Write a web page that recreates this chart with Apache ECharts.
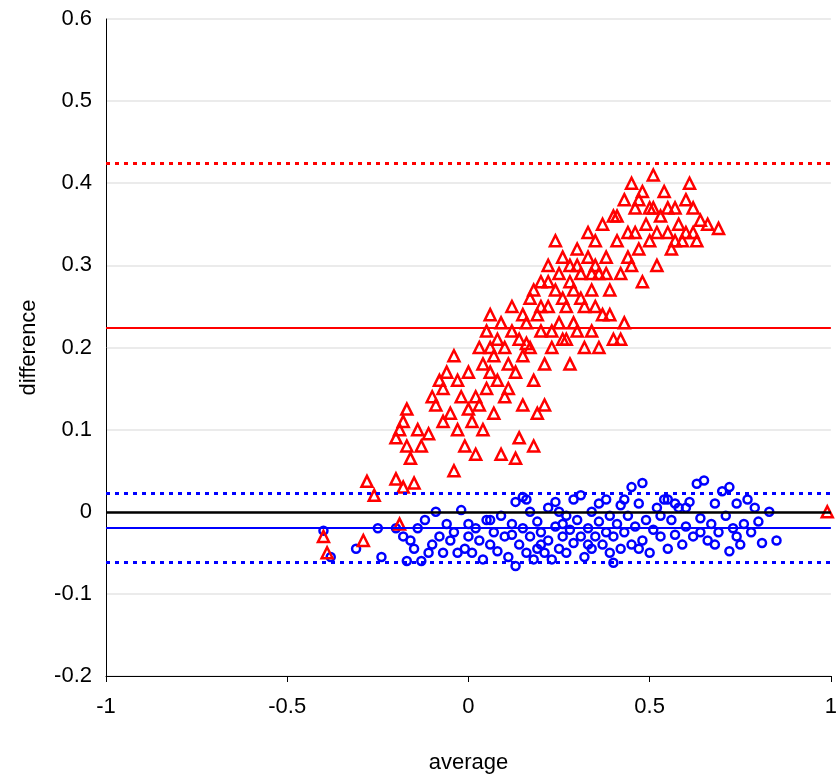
<!DOCTYPE html>
<html lang="en">
<head>
    <meta charset="UTF-8">
    <title>Difference vs average</title>
    <style>
        html, body { margin: 0; padding: 0; background: #fff; }
        .chart { width: 840px; height: 779px; }
    </style>
</head>
<body>
    <div id="chart" class="chart"></div>
    <script src="https://cdn.jsdelivr.net/npm/echarts@6/dist/echarts.min.js"></script>
    <script>
        // red triangles
        var redPoints = [
            [-0.40,-0.03],[-0.39,-0.05],[-0.29,-0.035],[-0.28,0.037],[-0.26,0.02],[-0.2,0.09],[-0.19,0.1],[-0.18,0.11],
            [-0.17,0.125],[-0.17,0.08],[-0.16,0.065],[-0.15,0.035],[-0.2,0.04],[-0.18,0.03],[-0.19,-0.015],[-0.14,0.1],
            [-0.13,0.08],[-0.1,0.14],[-0.09,0.13],[-0.08,0.16],[-0.07,0.15],[-0.07,0.11],[-0.06,0.17],[-0.05,0.12],
            [-0.04,0.19],[-0.04,0.05],[-0.03,0.16],[-0.03,0.1],[-0.02,0.14],[-0.01,0.08],[0,0.17],[0.01,0.11],
            [0.02,0.14],[0.02,0.07],[0.03,0.2],[0.03,0.13],[0.04,0.18],[0.04,0.1],[0.05,0.22],[0.05,0.15],
            [0.06,0.24],[0.06,0.17],[0.07,0.19],[0.07,0.12],[0.08,0.21],[0.08,0.16],[0.09,0.23],[0.09,0.07],
            [0.1,0.2],[0.1,0.14],[0.11,0.18],[0.12,0.22],[0.12,0.25],[0.13,0.17],[0.13,0.065],[0.14,0.21],
            [0.15,0.19],[0.15,0.13],[0.16,0.23],[0.17,0.26],[0.17,0.2],[0.18,0.16],[0.18,0.08],[0.19,0.24],
            [0.19,0.12],[0.2,0.28],[0.2,0.22],[0.21,0.18],[0.21,0.13],[0.22,0.3],[0.22,0.25],[0.23,0.2],
            [0.24,0.33],[0.24,0.27],[0.25,0.23],[0.25,0.29],[0.26,0.31],[0.26,0.21],[0.27,0.25],[0.28,0.3],
            [0.28,0.18],[0.29,0.27],[0.3,0.32],[0.3,0.22],[0.31,0.29],[0.32,0.25],[0.32,0.2],[0.33,0.31],
            [0.34,0.27],[0.34,0.22],[0.35,0.33],[0.36,0.29],[0.36,0.2],[0.37,0.35],[0.37,0.24],[0.38,0.31],
            [0.39,0.27],[0.4,0.36],[0.4,0.21],[0.41,0.33],[0.42,0.29],[0.43,0.38],[0.43,0.23],[0.44,0.34],
            [0.45,0.4],[0.45,0.3],[0.46,0.37],[0.47,0.32],[0.48,0.39],[0.48,0.28],[0.49,0.35],[0.5,0.33],
            [0.51,0.41],[0.51,0.37],[0.52,0.3],[0.53,0.36],[0.54,0.39],[0.55,0.34],[0.56,0.32],[0.57,0.37],
            [0.58,0.35],[0.59,0.33],[0.6,0.38],[0.61,0.4],[0.62,0.34],[0.64,0.355],[0.66,0.35],[0.69,0.345],
            [0.23,0.22],[0.27,0.21],[0.31,0.26],[0.35,0.25],[0.39,0.24],[0.42,0.21],[0.16,0.205],[0.11,0.15],
            [0.14,0.09],[0.2,0.25],[0.28,0.28],[0.33,0.34],[0.38,0.29],[0.46,0.34],[0.5,0.37],[0.55,0.37],
            [0.6,0.34],[0.63,0.33],[0.99,0],[0.35,0.3],[0.29,0.23],[-0.11,0.095],[0.0,0.125],[0.06,0.2],
            [0.15,0.24],[0.18,0.27],[0.22,0.28],[0.26,0.26],[0.3,0.3],[0.34,0.29],[0.41,0.36],[0.44,0.31],
            [0.47,0.38],[0.52,0.34],[0.57,0.33],[0.62,0.37]
        ];
        // blue circles
        var bluePoints = [
            [-0.4,-0.023],[-0.38,-0.055],[-0.31,-0.045],[-0.25,-0.02],[-0.24,-0.055],[-0.2,-0.02],[-0.18,-0.03],
            [-0.17,-0.06],[-0.16,-0.035],[-0.15,-0.045],[-0.14,-0.02],[-0.13,-0.06],[-0.12,-0.01],[-0.11,-0.05],
            [-0.1,-0.04],[-0.09,0.0],[-0.08,-0.03],[-0.07,-0.05],[-0.06,-0.015],[-0.05,-0.035],[-0.04,-0.025],
            [-0.02,0.002],[-0.01,-0.045],[0,-0.03],[0.01,-0.05],[0.02,-0.02],[0.03,-0.035],[0.04,-0.058],
            [0.05,-0.01],[0.06,-0.04],[0.07,-0.025],[0.08,-0.048],[0.09,-0.005],[0.1,-0.03],[0.11,-0.055],
            [0.12,-0.015],[0.13,-0.066],[0.13,0.012],[0.14,-0.04],[0.15,-0.02],[0.15,0.018],[0.16,-0.05],
            [0.17,-0.03],[0.17,0.0],[0.18,-0.058],[0.19,-0.012],[0.2,-0.04],[0.2,-0.025],[0.21,-0.05],
            [0.22,0.005],[0.22,-0.035],[0.23,-0.058],[0.24,-0.018],[0.24,0.012],[0.25,-0.045],[0.26,-0.03],
            [0.27,-0.005],[0.27,-0.05],[0.28,-0.022],[0.29,0.015],[0.29,-0.038],[0.3,-0.01],[0.31,-0.03],
            [0.31,0.02],[0.32,-0.055],[0.33,-0.02],[0.34,0.0],[0.34,-0.045],[0.35,-0.03],[0.36,-0.012],
            [0.36,0.01],[0.37,-0.04],[0.38,-0.025],[0.38,0.015],[0.39,-0.005],[0.4,-0.062],[0.4,-0.03],
            [0.41,-0.015],[0.42,0.008],[0.42,-0.045],[0.43,-0.025],[0.44,-0.005],[0.45,-0.04],[0.45,0.03],
            [0.46,-0.018],[0.47,0.01],[0.48,-0.035],[0.48,0.035],[0.49,-0.01],[0.5,-0.05],[0.51,-0.022],
            [0.52,0.005],[0.53,-0.03],[0.54,0.015],[0.55,-0.045],[0.56,-0.01],[0.57,-0.028],[0.58,0.005],
            [0.59,-0.04],[0.6,-0.018],[0.61,0.012],[0.62,-0.03],[0.63,0.034],[0.64,-0.008],[0.65,0.038],
            [0.66,-0.035],[0.67,-0.015],[0.68,0.01],[0.69,-0.025],[0.7,0.025],[0.71,-0.005],[0.72,0.03],
            [0.72,-0.048],[0.73,-0.02],[0.74,0.01],[0.75,-0.04],[0.76,-0.015],[0.77,0.015],[0.78,-0.025],
            [0.79,0.005],[0.8,-0.012],[0.81,-0.038],[0.83,0.0],[0.85,-0.035],[0.55,0.015],[0.43,0.015],
            [0.33,-0.04],[0.26,-0.015],[0.19,-0.045],[0.12,-0.028],[0.06,-0.01],[0.0,-0.015],[-0.03,-0.05],
            [0.47,-0.045],[0.53,-0.005],[0.6,0.005],[0.68,-0.04],[0.74,-0.03],[0.39,-0.05],[0.25,0.0],
            [0.16,0.015],[0.57,0.01],[0.64,-0.025]
        ];
        // reference lines
        var redLines = [0.424, 0.224];
        var blueLines = [0.023, -0.019, -0.061];

        var chart = echarts.init(document.getElementById('chart'));
        var font = 'Liberation Sans, Arial, sans-serif';

        option = {
            animation: false,
            grid: { left: 106, right: 8, top: 19, bottom: 103 },
            xAxis: {
                type: 'value', min: -1, max: 1, interval: 0.5,
                name: 'average', nameLocation: 'middle', nameGap: 76,
                nameTextStyle: { fontSize: 22, color: '#000', fontFamily: font },
                axisLine: { onZero: false, lineStyle: { color: '#000' } },
                axisTick: { show: true, length: 6, lineStyle: { color: '#000' } },
                axisLabel: { fontSize: 22, color: '#000', fontFamily: font, margin: 20 },
                splitLine: { show: false }
            },
            yAxis: {
                type: 'value', min: -0.2, max: 0.6, interval: 0.1,
                name: 'difference', nameLocation: 'middle', nameGap: 66,
                nameTextStyle: { fontSize: 22, color: '#000', fontFamily: font },
                axisLine: { show: true, onZero: false, lineStyle: { color: '#000' } },
                axisTick: { show: false },
                axisLabel: { fontSize: 22, color: '#000', fontFamily: font, margin: 14,
                    formatter: function (v) { return Math.abs(v) < 1e-9 ? '0' : String(+v.toFixed(1)); } },
                splitLine: { show: true, lineStyle: { color: '#ebebeb', width: 2 } }
            },
            series: [{
                type: 'scatter',
                data: bluePoints,
                symbol: 'circle', symbolSize: 8,
                itemStyle: { color: 'rgba(0,0,0,0)', borderColor: '#0000ff', borderWidth: 2.5, opacity: 1 },
                z: 3
            }, {
                type: 'scatter',
                data: redPoints,
                symbol: 'triangle', symbolSize: 11,
                itemStyle: { color: 'rgba(0,0,0,0)', borderColor: '#ff0000', borderWidth: 2.5, opacity: 1 },
                z: 4,
                markLine: {
                    silent: true, symbol: 'none', precision: 4, label: { show: false },
                    data: [
                        { yAxis: 0, lineStyle: { color: '#000', type: 'solid', width: 2.5 } },
                        { yAxis: redLines[0], lineStyle: { color: '#ff0000', type: [4, 5], width: 3 } },
                        { yAxis: redLines[1], lineStyle: { color: '#ff0000', type: 'solid', width: 2 } },
                        { yAxis: blueLines[0], lineStyle: { color: '#0000ff', type: [4, 5], width: 3 } },
                        { yAxis: blueLines[1], lineStyle: { color: '#0000ff', type: 'solid', width: 2 } },
                        { yAxis: blueLines[2], lineStyle: { color: '#0000ff', type: [4, 5], width: 3 } }
                    ]
                }
            }]
        };

        chart.setOption(option, true);
    </script>
</body>
</html>
